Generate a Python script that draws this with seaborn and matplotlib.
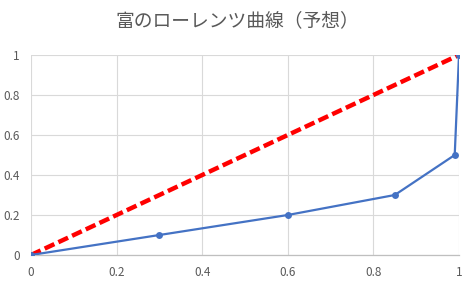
import matplotlib
matplotlib.use("Agg")
import matplotlib.pyplot as plt
import seaborn as sns
import pandas as pd

# data
x_share = [0, 0.3, 0.6, 0.85, 0.99, 1.0]
wealth_share = [0, 0.1, 0.2, 0.3, 0.5, 1.0]
equal_x = [0, 1]
equal_y = [0, 1]
ticks = [0, 0.2, 0.4, 0.6, 0.8, 1]
tick_labels = ["0", "0.2", "0.4", "0.6", "0.8", "1"]
title = "富のローレンツ曲線（予想）"

sns.set_theme(style="white")
plt.rcParams['font.family'] = ['Noto Sans CJK JP', 'DejaVu Sans']

fig = plt.figure(figsize=(4.74, 2.84), dpi=100)
ax = fig.add_axes([31/474, 1-255/284, (459-31)/474, 200/284])

df_eq = pd.DataFrame({"x": equal_x, "y": equal_y})
df_lc = pd.DataFrame({"x": x_share, "y": wealth_share})

sns.lineplot(data=df_eq, x="x", y="y", ax=ax, color="#FF0000", linewidth=3.2,
             dashes=False, linestyle=(0, (2.4, 1.0)), zorder=2)
sns.lineplot(data=df_lc, x="x", y="y", ax=ax, color="#4472C4", linewidth=1.6,
             marker="o", markersize=5, markeredgewidth=0, zorder=3, sort=False)

ax.set_xlim(0, 1)
ax.set_ylim(0, 1)
ax.set_xticks(ticks)
ax.set_xticklabels(tick_labels)
ax.set_yticks(ticks)
ax.set_yticklabels(tick_labels)
ax.set_xlabel("")
ax.set_ylabel("")
ax.grid(True, color="#D9D9D9", linewidth=0.8)
ax.set_axisbelow(True)
for s in ["top", "right", "left"]:
    ax.spines[s].set_visible(False)
ax.spines["bottom"].set_color("#BFBFBF")
ax.spines["bottom"].set_linewidth(0.9)
ax.tick_params(axis="both", length=0, labelsize=8.5, colors="#595959", pad=8)
ax.tick_params(axis="y", pad=8)

fig.text(0.5, 1-21/284, title, ha="center", va="center", fontsize=13.5, color="#595959")

fig.savefig("out.png", dpi=100)
